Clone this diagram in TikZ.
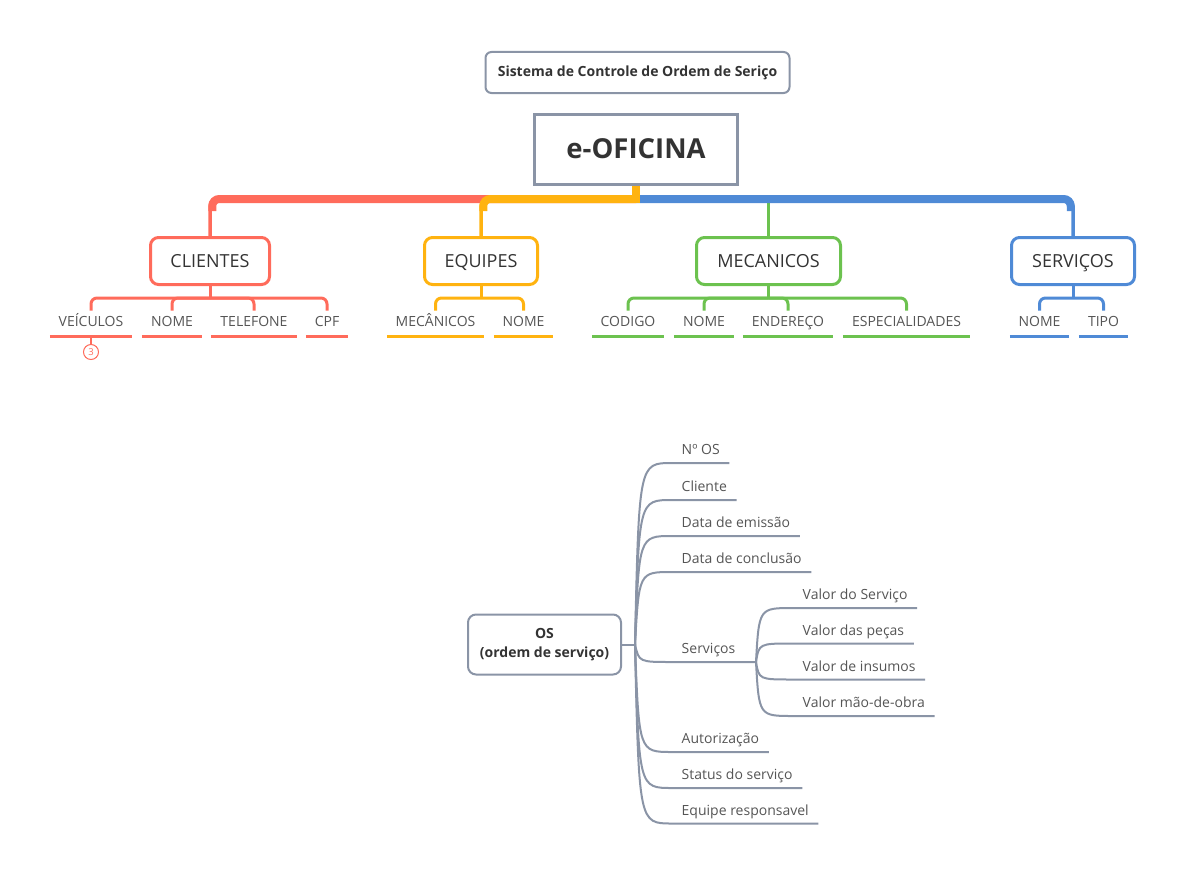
\documentclass[tikz,border=0pt]{standalone}
\usepackage{fontspec}
\setmainfont{Open Sans}
\usetikzlibrary{calc}
\definecolor{cred}{HTML}{FF6B5B}
\definecolor{corange}{HTML}{FFB310}
\definecolor{cgreen}{HTML}{6CC24F}
\definecolor{cblue}{HTML}{4F8AD6}
\definecolor{cgray}{HTML}{8A94A6}
\definecolor{ctext}{HTML}{333333}
\definecolor{cleaf}{HTML}{555555}
\begin{document}
\begin{tikzpicture}[x=1pt,y=-1pt,
  cat/.style={draw=#1, line width=3pt, rounded corners=8pt, minimum height=47pt,
    text=ctext, font=\fontsize{18}{21}\selectfont, inner sep=0pt, text height=13pt, text depth=0pt},
  leaf/.style={anchor=south, minimum width=#1, inner xsep=0pt, inner ysep=0pt,
    text height=16pt, text depth=9pt, text=cleaf, font=\fontsize{14}{16}\selectfont},
  uline/.style={draw=#1, line width=3pt},
  sub/.style={draw=#1, line width=3pt, rounded corners=6pt},
  thin/.style={draw=#1, line width=3.5pt, rounded corners=8pt},
  thick/.style={draw=#1, line width=8pt, rounded corners=7pt},
  bleaf/.style={anchor=south west, inner xsep=9.5pt, inner ysep=0pt,
    text height=17pt, text depth=8pt, text=cleaf, font=\fontsize{14}{16}\selectfont},
  br/.style={draw=cgray, line width=2pt},
]
\useasboundingbox (0,0) rectangle (1185,875);

% title and root
\node[draw=cgray, line width=2pt, rounded corners=6pt, minimum width=304pt, minimum height=41pt,
  inner sep=0pt, text=ctext, font=\bfseries\fontsize{14}{16}\selectfont] (title) at (637.5,72.5)
  {Sistema de Controle de Ordem de Seriço};
\node[draw=cgray, line width=3pt, minimum width=203pt, minimum height=70pt, inner sep=0pt,
  text=ctext, font=\bfseries\fontsize{27.5}{32}\selectfont] (ofi) at (636,149) {e-OFICINA};

% categories
\node[cat=cred] (cli) at (210,261) [minimum width=119pt] {CLIENTES};
\node[cat=corange] (equ) at (481,261) [minimum width=113pt] {EQUIPES};
\node[cat=cgreen] (mec) at (768.5,261) [minimum width=144pt] {MECANICOS};
\node[cat=cblue] (ser) at (1073,261) [minimum width=123pt] {SERVIÇOS};

\coordinate (root) at ($(ofi.south)+(0,13.5)$);

% red branch
\draw[thin=cred] (root) -| (cli.north);
\draw[thick=cred] (root) -| ($(root -| cli.north)+(2.25,12)$);
% green branch
\draw[draw=cgreen, line width=3.5pt] (root -| mec.north) -- (mec.north);
% blue branch
\draw[thin=cblue] (root) -| (ser.north);
\draw[thick=cblue] (root) -| ($(root -| ser.north)+(-2.25,12)$);
% orange branch
\draw[thin=corange] (root) -| (equ.north);
\draw[thick=corange] (root) -| ($(root -| equ.north)+(2.25,12)$);
\draw[draw=corange, line width=8pt] (ofi.south) -- ($(root)+(0,4)$);

% leaves CLIENTES
\node[leaf=82pt] (veic) at (91,336) {VEÍCULOS};
\node[leaf=60pt] (cnome) at (172,336) {NOME};
\node[leaf=86pt] (ctel) at (254,336) {TELEFONE};
\node[leaf=42pt] (ccpf) at (327,336) {CPF};
% leaves EQUIPES
\node[leaf=97pt] (emec) at (435.5,336) {MECÂNICOS};
\node[leaf=59pt] (enome) at (523.5,336) {NOME};
% leaves MECANICOS
\node[leaf=72pt] (mcod) at (628,336) {CODIGO};
\node[leaf=60pt] (mnome) at (704,336) {NOME};
\node[leaf=90pt] (mend) at (788,336) {ENDEREÇO};
\node[leaf=127pt] (mesp) at (906.5,336) {ESPECIALIDADES};
% leaves SERVICOS
\node[leaf=59pt] (snome) at (1039.5,336) {NOME};
\node[leaf=49pt] (stipo) at (1103.5,336) {TIPO};

\foreach \n/\c in {veic/cred,cnome/cred,ctel/cred,ccpf/cred,emec/corange,enome/corange,
  mcod/cgreen,mnome/cgreen,mend/cgreen,mesp/cgreen,snome/cblue,stipo/cblue}
  \draw[uline=\c] (\n.south west) -- (\n.south east);

% sub buses
\draw[draw=cred, line width=3pt] (cli.south) -- ++(0,12) coordinate (clib);
\draw[sub=cred] (veic.north) |- (clib) -| (ccpf.north);
\draw[sub=cred] (clib) -| (cnome.north);
\draw[sub=cred] (clib) -| (ctel.north);

\draw[draw=corange, line width=3pt] (equ.south) -- ++(0,12) coordinate (equb);
\draw[sub=corange] (emec.north) |- (equb) -| (enome.north);

\draw[draw=cgreen, line width=3pt] (mec.south) -- ++(0,12) coordinate (mecb);
\draw[sub=cgreen] (mcod.north) |- (mecb) -| (mesp.north);
\draw[sub=cgreen] (mecb) -| (mnome.north);
\draw[sub=cgreen] (mecb) -| (mend.north);

\draw[draw=cblue, line width=3pt] (ser.south) -- ++(0,12) coordinate (serb);
\draw[sub=cblue] (snome.north) |- (serb) -| (stipo.north);

% counter
\node[circle, draw=cred, line width=1pt, minimum size=15pt, inner sep=0pt, text=cred,
  font=\fontsize{9.5}{10}\selectfont] (cnt) at (91,352) {3};
\draw[draw=cred, line width=1.5pt] (veic.south) -- (cnt.north);

% ---------- OS mind map ----------
\node[draw=cgray, line width=2pt, rounded corners=8pt, minimum width=153pt, minimum height=60pt,
  inner sep=0pt, align=center, text=ctext, font=\bfseries\fontsize{14}{19}\selectfont]
  (os) at (544.5,644.5) {OS\\(ordem de serviço)};
\draw[br] (os.east) -- ++(13,0) coordinate (osr);

\node[bleaf] (b1) at (672,463) {Nº OS};
\node[bleaf] (b2) at (672,500) {Cliente};
\node[bleaf] (b3) at (672,536) {Data de emissão};
\node[bleaf] (b4) at (672,572) {Data de conclusão};
\node[bleaf] (b5) at (672,662) {Serviços};
\node[bleaf] (b6) at (672,752) {Autorização};
\node[bleaf] (b7) at (672,788) {Status do serviço};
\node[bleaf] (b8) at (672,823.5) {Equipe responsavel};

\foreach \n in {b1,b2,b3,b4,b6,b7,b8}{
  \draw[br] (osr) .. controls ($(osr |- \n.south)+(4,0)$) .. (\n.south west) -- (\n.south east);
}
\coordinate (sroot) at (756,662);
\draw[br] (osr) .. controls ($(osr |- b5.south)+(4,0)$) .. (b5.south west) -- (sroot);

\node[bleaf] (v1) at (793,608) {Valor do Serviço};
\node[bleaf] (v2) at (793,643.5) {Valor das peças};
\node[bleaf] (v3) at (793,679.5) {Valor de insumos};
\node[bleaf] (v4) at (793,716) {Valor mão-de-obra};
\foreach \n in {v1,v2,v3,v4}{
  \draw[br] (sroot) .. controls ($(sroot |- \n.south)+(3,0)$) .. (\n.south west) -- (\n.south east);
}
\end{tikzpicture}
\end{document}
